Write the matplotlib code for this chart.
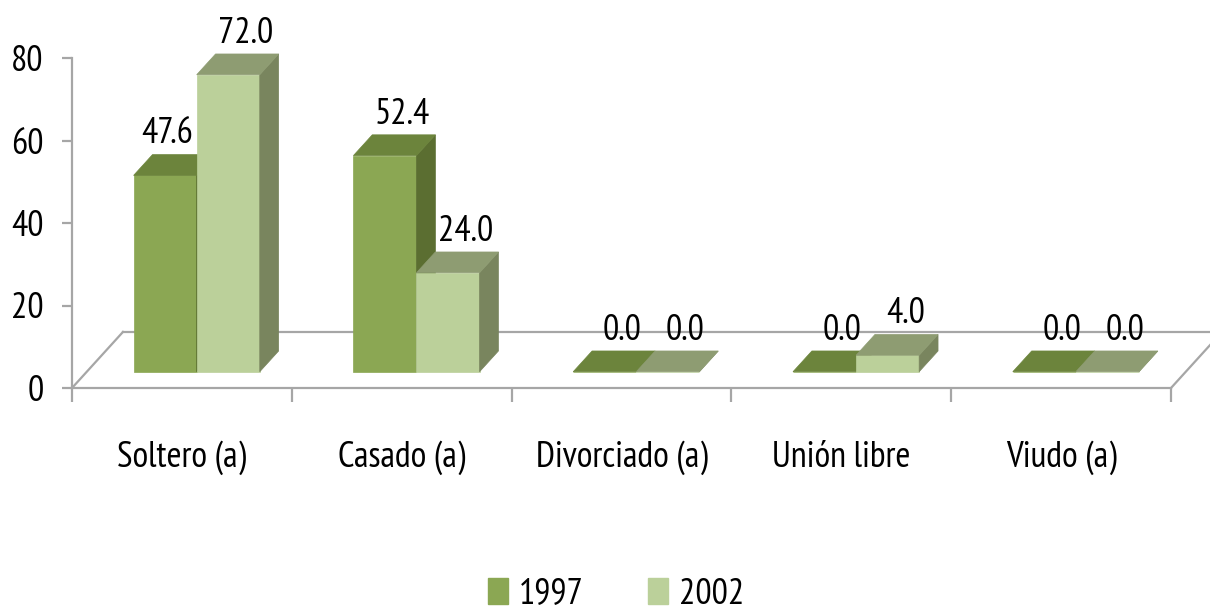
import matplotlib
matplotlib.use("Agg")
import matplotlib.pyplot as plt
from matplotlib.patches import Polygon, Patch
from matplotlib.lines import Line2D

plt.rcParams['font.family'] = ['PT Sans Narrow', 'DejaVu Sans']

categories = ['Soltero (a)', 'Casado (a)', 'Divorciado (a)', 'Unión libre', 'Viudo (a)']
years = ['1997', '2002']
values_1997 = [47.6, 52.4, 0.0, 0.0, 0.0]
values_2002 = [72.0, 24.0, 0.0, 4.0, 0.0]
y_ticks = [0, 20, 40, 60, 80]

# colours per series: front, top, side
colors = {
    '1997': ('#8BA753', '#6C843C', '#5B6E31'),
    '2002': ('#BBD09A', '#8E9C72', '#79855E'),
}
grid_gray = '#A6A6A6'
fs = 26

# fake 3d: depth vector of the floor in data units
depth_dx, depth_dy = 0.232, 13.6
f0, f1 = 0.29, 0.66          # bars sit between these depth fractions
bar_w = 0.287
label_nudge = {(0, 0): -0.07}  # keep 47.6 off the taller bar

fig = plt.figure(figsize=(12.1, 6.1), dpi=100)
ax = fig.add_axes([72 / 1210, 1 - 388 / 610, 1099 / 1210, 330 / 610])
ax.set_xlim(-0.5, 4.5)
ax.set_ylim(0, 80)

# floor outline (front edge is the bottom spine)
x_l, x_r = -0.5, 4.5
for xs, ys in [([x_l + depth_dx, x_r + depth_dx], [depth_dy, depth_dy]),
               ([x_l, x_l + depth_dx], [0, depth_dy]),
               ([x_r, x_r + depth_dx], [0, depth_dy])]:
    ax.add_line(Line2D(xs, ys, color=grid_gray, lw=1.6, clip_on=False, zorder=1))


def draw_bar(x0, v, cols):
    x1 = x0 + bar_w
    sx0, sx1 = f0 * depth_dx, f1 * depth_dx
    yb = f0 * depth_dy
    yt = yb + v
    ddy = (f1 - f0) * depth_dy
    front_c, top_c, side_c = cols
    front = [(x0 + sx0, yb), (x1 + sx0, yb), (x1 + sx0, yt), (x0 + sx0, yt)]
    side = [(x1 + sx0, yb), (x1 + sx1, yb + ddy), (x1 + sx1, yt + ddy), (x1 + sx0, yt)]
    top = [(x0 + sx0, yt), (x1 + sx0, yt), (x1 + sx1, yt + ddy), (x0 + sx1, yt + ddy)]
    for pts, c in [(front, front_c), (side, side_c), (top, top_c)]:
        ax.add_patch(Polygon(pts, closed=True, facecolor=c, edgecolor=c,
                             lw=0.5, clip_on=False, zorder=3))
    return x0 + bar_w / 2 + sx0, yt + ddy


for i, cat in enumerate(categories):
    for j, (yr, vals) in enumerate(zip(years, [values_1997, values_2002])):
        v = vals[i]
        x0 = i - bar_w + j * bar_w
        cx, top_y = draw_bar(x0, v, colors[yr])
        lx = cx + 0.08 + label_nudge.get((i, j), 0)
        ax.annotate(f'{v:.1f}', (lx, top_y), xytext=(0, 3), textcoords='offset points',
                    ha='center', va='bottom', fontsize=fs, zorder=5,
                    annotation_clip=False)

# axes styling
for s in ['top', 'right']:
    ax.spines[s].set_visible(False)
ax.spines['left'].set_color(grid_gray)
ax.spines['left'].set_linewidth(1.6)
ax.spines['bottom'].set_color(grid_gray)
ax.spines['bottom'].set_linewidth(1.6)
ax.set_yticks(y_ticks)
ax.set_yticklabels([str(t) for t in y_ticks])
ax.tick_params(axis='y', length=7.5, width=1.6, color=grid_gray, labelsize=fs, pad=13)
for lab in ax.get_yticklabels():
    lab.set_verticalalignment('center_baseline')

ax.set_xticks([b - 0.5 for b in range(len(categories) + 1)])
ax.set_xticklabels([])
ax.tick_params(axis='x', which='major', length=10, width=1.6, color=grid_gray)
ax.set_xticks(range(len(categories)), minor=True)
ax.set_xticklabels(categories, minor=True)
ax.tick_params(axis='x', which='minor', length=0, labelsize=fs, pad=38)

handles = [Patch(facecolor=colors[y][0], edgecolor=colors[y][0]) for y in years]
fig.legend(handles, years, loc='center', bbox_to_anchor=(616 / 1210, 1 - 594 / 610),
           ncol=2, frameon=False, fontsize=fs, handlelength=0.55, handleheight=0.7,
           handletextpad=0.3, columnspacing=1.8)

fig.savefig('out.png', dpi=100)
